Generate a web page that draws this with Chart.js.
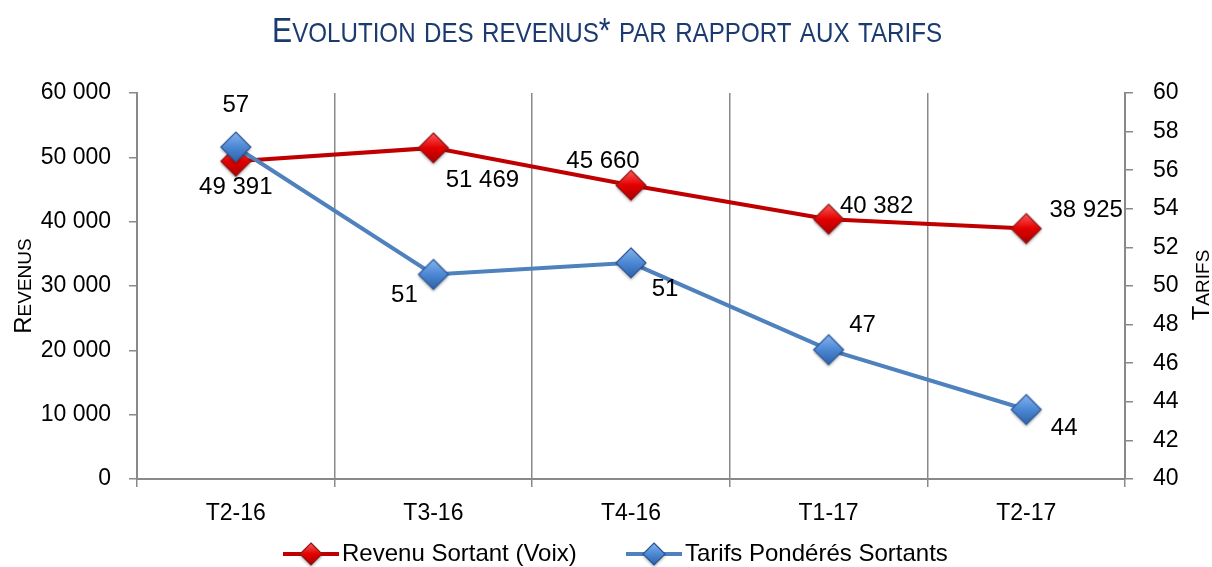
<!DOCTYPE html>
<html>
<head>
<meta charset="utf-8">
<title>Evolution des revenus par rapport aux tarifs</title>
<script src="https://cdn.jsdelivr.net/npm/chart.js"></script>
<style>
  html, body { margin: 0; padding: 0; background: #fff; }
  #wrap { width: 1212px; height: 567px; }
</style>
</head>
<body>
<div id="wrap"><canvas id="chart" width="1212" height="567"></canvas></div>
<script>
// data
const categories = ['T2-16', 'T3-16', 'T4-16', 'T1-17', 'T2-17'];
const revenus = [49391, 51469, 45660, 40382, 38925];
const tarifs = [57.2, 50.6, 51.2, 46.7, 43.6];
const tarifsLabels = ['57', '51', '51', '47', '44'];
const revenusLabel = 'Revenu Sortant (Voix)';
const tarifsLabel = 'Tarifs Pondérés Sortants';
const titleText = 'Evolution des revenus* par rapport aux tarifs';
const leftTitle = 'Revenus';
const rightTitle = 'Tarifs';

// label placement relative to each point (style, not data)
const revenusLabelOffsets = [[0, 26], [49, 32], [-28, -24], [48, -13], [60, -18]];
const tarifsLabelOffsets = [[0, -42], [-29, 21], [34, 27], [34, -24], [38, 19]];

const FONT = "'Liberation Sans', Arial, sans-serif";
const RED = '#C00000';
const BLUE = '#4F81BD';
const AXIS = '#898989';

const fmt = v => String(Math.round(v)).replace(/\B(?=(\d{3})+(?!\d))/g, ' ');

function diamond(r, light, mid, dark, edge) {
  const pad = 5;
  const c = document.createElement('canvas');
  c.width = c.height = 2 * r + 2 * pad;
  const g = c.getContext('2d');
  const m = r + pad;
  g.beginPath();
  g.moveTo(m, m - r); g.lineTo(m + r, m); g.lineTo(m, m + r); g.lineTo(m - r, m);
  g.closePath();
  const grad = g.createLinearGradient(0, m - r, 0, m + r);
  grad.addColorStop(0, light);
  grad.addColorStop(0.5, mid);
  grad.addColorStop(1, dark);
  g.shadowColor = 'rgba(0,0,0,0.35)';
  g.shadowBlur = 3;
  g.shadowOffsetY = 2;
  g.fillStyle = grad;
  g.fill();
  g.shadowColor = 'transparent';
  g.lineWidth = 1.2;
  g.strokeStyle = edge;
  g.stroke();
  return c;
}

const redMark = diamond(15, '#FF5A5A', '#E30000', '#A80000', '#8A1A1A');
const blueMark = diamond(15, '#86B4EE', '#4C88D4', '#2E62A8', '#2A5594');
const redMarkSmall = diamond(11, '#FF5A5A', '#E30000', '#A80000', '#8A1A1A');
const blueMarkSmall = diamond(11, '#86B4EE', '#4C88D4', '#2E62A8', '#2A5594');

// text with small capitals, centred on x; returns width
function smallCaps(ctx, text, x, y, big, small, draw = true) {
  const runs = [];
  for (const ch of text) {
    const low = ch !== ch.toUpperCase();
    const size = low ? small : big;
    const last = runs[runs.length - 1];
    if (last && last.size === size) last.t += ch.toUpperCase();
    else runs.push({ t: ch.toUpperCase(), size });
  }
  let w = 0;
  runs.forEach(r => { ctx.font = r.size + 'px ' + FONT; r.w = ctx.measureText(r.t).width; w += r.w; });
  if (!draw) return w;
  let cx = x - w / 2;
  ctx.textAlign = 'left';
  ctx.textBaseline = 'alphabetic';
  runs.forEach(r => { ctx.font = r.size + 'px ' + FONT; ctx.fillText(r.t, cx, y); cx += r.w; });
  return w;
}

const extras = {
  id: 'extras',
  afterDraw(chart) {
    const ctx = chart.ctx;
    ctx.save();

    // title, squeezed to the width it has in the picture
    ctx.fillStyle = '#1B3A6F';
    const tw = smallCaps(ctx, titleText, 0, 0, 35, 28, false);
    ctx.save();
    ctx.translate(607, 42);
    ctx.scale(670 / tw, 1);
    smallCaps(ctx, titleText, 0, 0, 35, 28);
    ctx.restore();

    // axis titles
    ctx.fillStyle = '#000';
    ctx.save();
    ctx.translate(31, 286);
    ctx.rotate(-Math.PI / 2);
    smallCaps(ctx, leftTitle, 0, 0, 24, 19);
    ctx.restore();
    ctx.save();
    ctx.translate(1209, 285);
    ctx.rotate(-Math.PI / 2);
    smallCaps(ctx, rightTitle, 0, 0, 24, 19);
    ctx.restore();

    // data labels
    ctx.font = '24px ' + FONT;
    ctx.textAlign = 'center';
    ctx.textBaseline = 'middle';
    ctx.fillStyle = '#000';
    const put = (dsIndex, texts, offs) => {
      chart.getDatasetMeta(dsIndex).data.forEach((p, i) => {
        ctx.fillText(texts[i], p.x + offs[i][0], p.y + offs[i][1]);
      });
    };
    put(1, revenus.map(fmt), revenusLabelOffsets);
    put(0, tarifsLabels, tarifsLabelOffsets);

    // legend
    const items = [
      { text: revenusLabel, color: RED, mark: redMarkSmall, x0: 283, x1: 339 },
      { text: tarifsLabel, color: BLUE, mark: blueMarkSmall, x0: 626, x1: 682 }
    ];
    const ly = 554;
    ctx.font = '24px ' + FONT;
    ctx.textAlign = 'left';
    items.forEach(it => {
      ctx.strokeStyle = it.color;
      ctx.lineWidth = 4;
      ctx.beginPath();
      ctx.moveTo(it.x0, ly);
      ctx.lineTo(it.x1, ly);
      ctx.stroke();
      const mx = (it.x0 + it.x1) / 2;
      ctx.drawImage(it.mark, mx - it.mark.width / 2, ly - it.mark.height / 2);
      ctx.fillStyle = '#000';
      ctx.fillText(it.text, it.x1 + 3, ly);
    });
    ctx.restore();
  }
};

new Chart(document.getElementById('chart'), {
  type: 'line',
  data: {
    labels: categories,
    datasets: [
      {
        label: tarifsLabel,
        data: tarifs,
        yAxisID: 'y1',
        borderColor: BLUE,
        borderWidth: 4,
        pointStyle: blueMark,
        pointRadius: 15,
        tension: 0
      },
      {
        label: revenusLabel,
        data: revenus,
        yAxisID: 'y',
        borderColor: RED,
        borderWidth: 4,
        pointStyle: redMark,
        pointRadius: 15,
        tension: 0
      }
    ]
  },
  options: {
    responsive: false,
    animation: false,
    layout: { padding: { top: 93 } },
    font: { family: FONT },
    plugins: { legend: { display: false }, tooltip: { enabled: false }, title: { display: false } },
    scales: {
      x: {
        offset: true,
        grid: { offset: true, color: AXIS, lineWidth: 1.5, tickLength: 8 },
        border: { color: AXIS, width: 2 },
        ticks: { color: '#000', padding: 13, font: { family: FONT, size: 23 } },
        afterFit: s => { s.height = 88; }
      },
      y: {
        position: 'left',
        min: 0,
        max: 60000,
        ticks: { stepSize: 10000, color: '#000', padding: 18, font: { family: FONT, size: 23 }, callback: v => fmt(v) },
        grid: { drawOnChartArea: false, color: AXIS, lineWidth: 1.5, tickLength: 8 },
        border: { color: AXIS, width: 2 },
        afterFit: s => { s.width = 137; }
      },
      y1: {
        position: 'right',
        min: 40,
        max: 60,
        ticks: { stepSize: 2, color: '#000', padding: 20, font: { family: FONT, size: 23 } },
        grid: { drawOnChartArea: false, color: AXIS, lineWidth: 1.5, tickLength: 8 },
        border: { color: AXIS, width: 2 },
        afterFit: s => { s.width = 87; }
      }
    }
  },
  plugins: [extras]
});
</script>
</body>
</html>
